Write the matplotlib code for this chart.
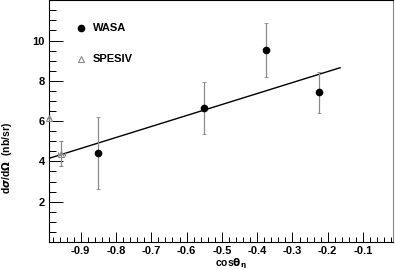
import matplotlib
matplotlib.use("Agg")
import matplotlib.pyplot as plt
from matplotlib.ticker import MultipleLocator

# WASA data
wasa_x = [-0.85, -0.55, -0.375, -0.225]
wasa_y = [4.42, 6.64, 9.52, 7.42]
wasa_lo = [2.65, 5.35, 8.2, 6.42]
wasa_hi = [6.2, 7.95, 10.85, 8.45]

# SPESIV data
spes_x = [-0.955, -0.99]
spes_y = [4.35, 6.15]
spes_lo = [3.75, 6.15]
spes_hi = [5.0, 6.15]
spes_xerr = [0.01, 0.0]

# linear fit
fit_x = [-0.99, -0.165]
fit_y = [4.15, 8.65]

plt.rcParams['font.family'] = ['Liberation Sans', 'DejaVu Sans']
plt.rcParams['font.weight'] = 'bold'

fig = plt.figure(figsize=(3.95, 2.7), dpi=100)
ax = fig.add_axes([0.124, 0.104, 0.871, 0.895])

grey = '#8a8a8a'
ax.errorbar(wasa_x, wasa_y,
            yerr=[[y - l for y, l in zip(wasa_y, wasa_lo)], [h - y for y, h in zip(wasa_y, wasa_hi)]],
            fmt='o', color='black', ms=4.5, ecolor=grey, elinewidth=0.9, capsize=1.2, capthick=0.6, zorder=3)
ax.errorbar(spes_x, spes_y,
            yerr=[[y - l for y, l in zip(spes_y, spes_lo)], [h - y for y, h in zip(spes_y, spes_hi)]],
            xerr=spes_xerr,
            fmt='^', mfc='none', mec=grey, color=grey, ms=4.5, mew=0.8, ecolor=grey, elinewidth=0.9,
            capsize=1.2, capthick=0.6, clip_on=False, zorder=3)
ax.plot(fit_x, fit_y, color='black', lw=1.0, zorder=2)

ax.set_xlim(-0.99, -0.015)
ax.set_ylim(0, 12)
ax.xaxis.set_minor_locator(MultipleLocator(0.02))
ax.yaxis.set_minor_locator(MultipleLocator(0.5))
ax.set_xticks([-0.9, -0.8, -0.7, -0.6, -0.5, -0.4, -0.3, -0.2, -0.1])
ax.set_xticklabels(['-0.9', '-0.8', '-0.7', '-0.6', '-0.5', '-0.4', '-0.3', '-0.2', '-0.1'])
ax.set_yticks([2, 4, 6, 8, 10])
ax.tick_params(axis='both', which='both', direction='in', top=False, right=False, labelsize=8, width=0.7)
ax.tick_params(axis='x', which='major', length=7, pad=3)
ax.tick_params(axis='x', which='minor', length=3.5)
ax.tick_params(axis='y', which='major', length=10, pad=3)
ax.tick_params(axis='y', which='minor', length=5)
for s in ax.spines.values():
    s.set_linewidth(0.8)
ax.spines['right'].set_color(grey)

ax.text(0.483, -0.062, r'cos$\mathbf{\theta_\eta}$', transform=ax.transAxes, fontsize=7.5,
        fontweight='bold', ha='left', va='top')
fig.text(0.018, 0.415, r'd$\sigma$/d$\Omega$  (nb/sr)', rotation=90, fontsize=7.5,
         ha='center', va='center')

# legend
ax.plot([-0.9], [10.6], 'o', color='black', ms=4.5)
ax.text(-0.866, 10.6, 'WASA', fontsize=8, va='center', ha='left')
ax.plot([-0.9], [9.1], '^', mfc='none', mec=grey, ms=4.5, mew=0.8)
ax.text(-0.866, 9.1, 'SPESIV', fontsize=8, va='center', ha='left')

plt.savefig('out.png', dpi=100)
